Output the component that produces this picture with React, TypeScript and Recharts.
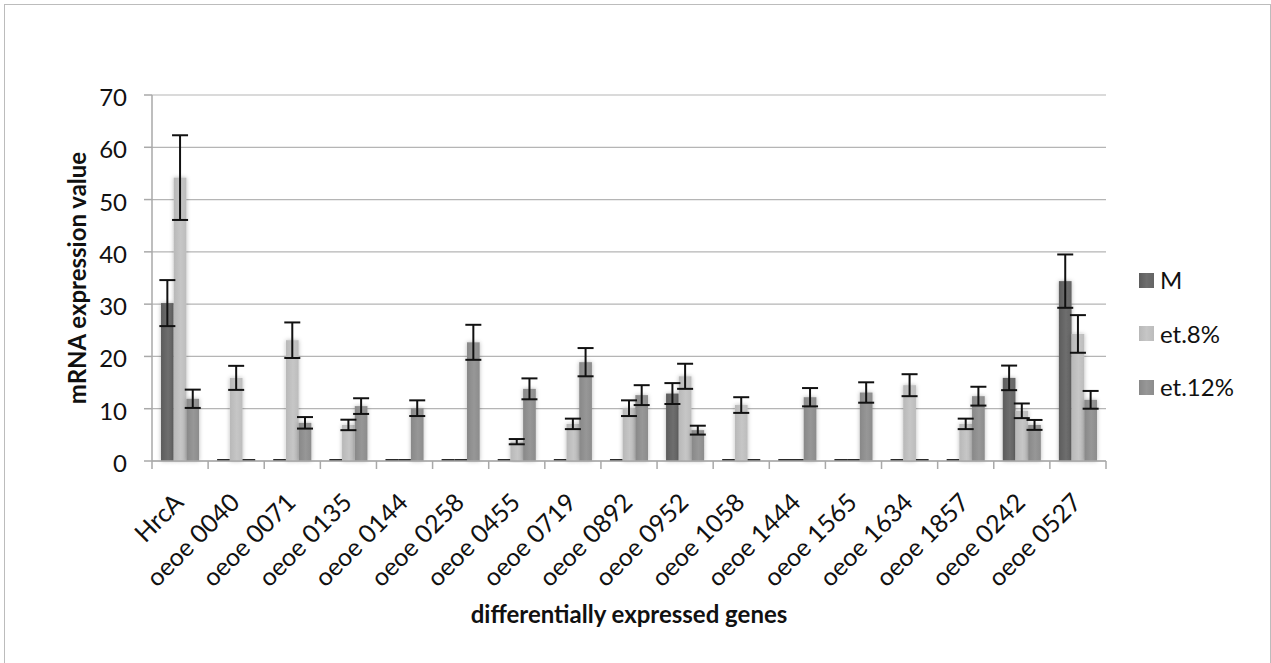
import { Bar, BarChart, CartesianGrid, ErrorBar, Label, XAxis, YAxis } from "recharts";

// Genes on the category axis
const categories = [
  "HrcA",
  "oeoe 0040",
  "oeoe 0071",
  "oeoe 0135",
  "oeoe 0144",
  "oeoe 0258",
  "oeoe 0455",
  "oeoe 0719",
  "oeoe 0892",
  "oeoe 0952",
  "oeoe 1058",
  "oeoe 1444",
  "oeoe 1565",
  "oeoe 1634",
  "oeoe 1857",
  "oeoe 0242",
  "oeoe 0527",
];

// Series values
const mValues = [30.2, 0, 0, 0, 0, 0, 0, 0, 0, 12.9, 0, 0, 0, 0, 0, 15.9, 34.4];
const mErrors = [4.4, 0, 0, 0, 0, 0, 0, 0, 0, 2.0, 0, 0, 0, 0, 0, 2.35, 5.1];

const et8Values = [54.2, 15.9, 23.1, 6.9, 0, 0, 3.7, 7.1, 10.1, 16.2, 10.7, 0, 0, 14.5, 7.1, 9.6, 24.3];
const et8Errors = [8.1, 2.3, 3.4, 1.0, 0, 0, 0.5, 1.0, 1.5, 2.4, 1.5, 0, 0, 2.1, 1.0, 1.4, 3.6];

const et12Values = [11.9, 0, 7.3, 10.5, 10.1, 22.7, 13.8, 18.9, 12.6, 5.9, 0, 12.2, 13.1, 0, 12.4, 6.9, 11.7];
const et12Errors = [1.75, 0, 1.1, 1.5, 1.5, 3.35, 2.0, 2.7, 1.9, 0.85, 0, 1.75, 1.95, 0, 1.8, 0.95, 1.7];

const yTicks = [0, 10, 20, 30, 40, 50, 60, 70];
const seriesNames = ["M", "et.8%", "et.12%"];

const FONT = "Lato, 'Open Sans', sans-serif";

const series = [
  { key: "m", err: "mErr", name: seriesNames[0], grad: "gradM", stops: ["#5c5c5c", "#6e6e6e", "#646464"] },
  { key: "et8", err: "et8Err", name: seriesNames[1], grad: "gradEt8", stops: ["#b8b8b8", "#c6c6c6", "#bcbcbc"] },
  { key: "et12", err: "et12Err", name: seriesNames[2], grad: "gradEt12", stops: ["#888888", "#979797", "#8c8c8c"] },
];

const data = categories.map((name, i) => ({
  name,
  m: mValues[i],
  mErr: mErrors[i],
  et8: et8Values[i],
  et8Err: et8Errors[i],
  et12: et12Values[i],
  et12Err: et12Errors[i],
}));

// Excel draws zero bars as a thin dark line on the baseline
function makeShape(key: string, grad: string) {
  return (p: any) => {
    const v = p.payload ? p.payload[key] : p.value;
    if (v === 0) {
      return <rect x={p.x} y={p.y + p.height - 2} width={p.width} height={2} fill="#2a2a2a" />;
    }
    return (
      <rect
        x={p.x}
        y={p.y}
        width={p.width}
        height={p.height}
        fill={`url(#${grad})`}
        filter="url(#softGlow)"
      />
    );
  };
}

function CategoryTick(props: any) {
  const { x, y, payload, index, width } = props;
  const half = payload && payload.offset ? payload.offset : width / categories.length / 2;
  const axisY = y - 10;
  const tx = x + 5;
  const ty = y + 33;
  return (
    <g>
      <line x1={x - half} x2={x - half} y1={axisY} y2={axisY + 8} stroke="#a9a9a9" strokeWidth={1.5} />
      {index === categories.length - 1 && (
        <line x1={x + half} x2={x + half} y1={axisY} y2={axisY + 8} stroke="#a9a9a9" strokeWidth={1.5} />
      )}
      <text
        x={tx}
        y={ty}
        textAnchor="end"
        transform={`rotate(-45, ${tx}, ${ty})`}
        fontFamily={FONT}
        fontSize={25}
        fill="#111"
      >
        {payload.value}
      </text>
    </g>
  );
}

function ValueTick(props: any) {
  const { x, y, payload } = props;
  return (
    <text x={x} y={y + 11} textAnchor="end" fontFamily={FONT} fontSize={24} fill="#111">
      {payload.value}
    </text>
  );
}

function LegendBox() {
  return (
    <div style={{ position: "absolute", left: 1139, top: 265, fontFamily: FONT }}>
      {series.map((s) => (
        <div
          key={s.key}
          style={{ display: "flex", alignItems: "center", height: 30, marginBottom: 23.5 }}
        >
          <span
            style={{
              display: "inline-block",
              width: 15,
              height: 15,
              background: `linear-gradient(90deg, ${s.stops[0]}, ${s.stops[1]}, ${s.stops[2]})`,
            }}
          />
          <span style={{ marginLeft: 6, fontSize: 24, lineHeight: "30px", color: "#111" }}>{s.name}</span>
        </div>
      ))}
    </div>
  );
}

export default function App() {
  return (
    <div
      style={{
        position: "absolute",
        left: 0,
        top: 0,
        width: 1271,
        height: 663,
        overflow: "hidden",
        background: "#fff",
      }}
    >
      {/* chart area frame */}
      <div
        style={{
          position: "absolute",
          left: 4,
          top: 4,
          width: 1267,
          height: 720,
          boxSizing: "border-box",
          border: "1.5px solid #bcbcbc",
        }}
      />
      <div style={{ position: "absolute", left: 0, top: 0 }}>
        <BarChart
          width={1271}
          height={663}
          data={data}
          margin={{ top: 95, right: 165, bottom: 0, left: 0 }}
          barCategoryGap={9}
          barGap={0}
          barSize={12.7}
        >
          <defs>
            {series.map((s) => (
              <linearGradient key={s.grad} id={s.grad} x1="0" y1="0" x2="1" y2="0">
                <stop offset="0%" stopColor={s.stops[0]} />
                <stop offset="55%" stopColor={s.stops[1]} />
                <stop offset="100%" stopColor={s.stops[2]} />
              </linearGradient>
            ))}
            <filter id="softGlow" x="-40%" y="-10%" width="180%" height="120%">
              <feDropShadow dx="0" dy="0" stdDeviation="2" floodColor="#000" floodOpacity="0.28" />
            </filter>
          </defs>
          <CartesianGrid vertical={false} stroke="#b5b5b5" strokeWidth={1.2} />
          <XAxis
            dataKey="name"
            height={202}
            interval={0}
            tickLine={false}
            tickSize={8}
            tickMargin={2}
            axisLine={{ stroke: "#a9a9a9", strokeWidth: 1.5 }}
            tick={(p: any) => <CategoryTick {...p} />}
          >
            <Label
              content={(p: any) => {
                const vb = p.viewBox;
                return (
                  <text
                    x={vb.x + vb.width / 2}
                    y={vb.y + 162}
                    textAnchor="middle"
                    fontFamily={FONT}
                    fontWeight="bold"
                    fontSize={24}
                    fill="#111"
                  >
                    differentially expressed genes
                  </text>
                );
              }}
            />
          </XAxis>
          <YAxis
            width={152}
            domain={[0, 70]}
            ticks={yTicks}
            interval={0}
            tickSize={8}
            tickMargin={17}
            axisLine={{ stroke: "#a9a9a9", strokeWidth: 1.5 }}
            tickLine={{ stroke: "#a9a9a9", strokeWidth: 1.5 }}
            tick={(p: any) => <ValueTick {...p} />}
          >
            <Label
              content={(p: any) => {
                const vb = p.viewBox;
                const lx = vb.x + 86;
                const ly = vb.y + vb.height / 2;
                return (
                  <text
                    x={lx}
                    y={ly}
                    textAnchor="middle"
                    transform={`rotate(-90, ${lx}, ${ly})`}
                    fontFamily={FONT}
                    fontWeight="bold"
                    fontSize={24}
                    fill="#111"
                  >
                    mRNA expression value
                  </text>
                );
              }}
            />
          </YAxis>
          {series.map((s) => (
            <Bar
              key={s.key}
              dataKey={s.key}
              name={s.name}
              fill={s.stops[1]}
              minPointSize={2}
              isAnimationActive={false}
              shape={makeShape(s.key, s.grad)}
            >
              <ErrorBar dataKey={s.err} width={8} stroke="#111" strokeWidth={2} direction="y" />
            </Bar>
          ))}
        </BarChart>
      </div>
      <LegendBox />
    </div>
  );
}
